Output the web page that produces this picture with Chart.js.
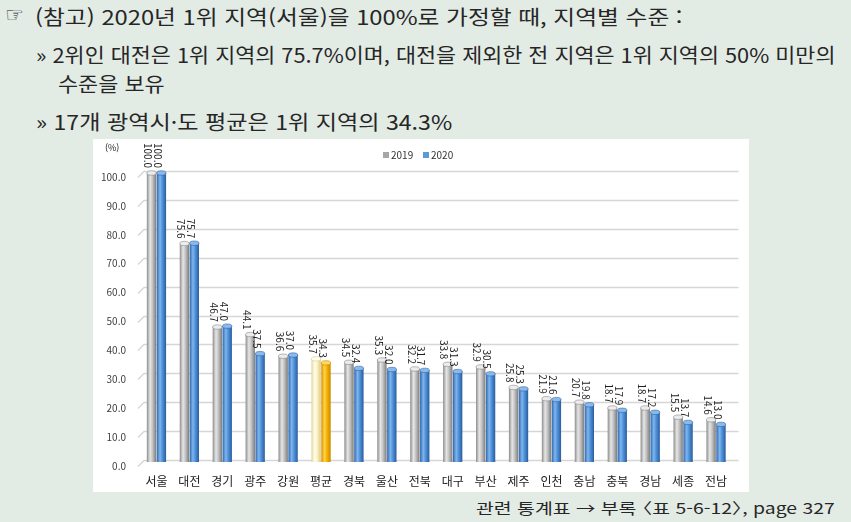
<!DOCTYPE html>
<html lang="ko">
<head>
<meta charset="utf-8">
<script src="https://cdn.jsdelivr.net/npm/chart.js@4.4.1/dist/chart.umd.min.js"></script>
<style>
  body { margin: 0; width: 851px; height: 522px; background: #e3ebe5; position: relative; overflow: hidden;
         font-family: "Noto Sans CJK KR", sans-serif; color: #262626; }
  .txt { position: absolute; white-space: nowrap; transform-origin: 0 50%; font-size: 20px; line-height: 24px; }
  #hand { position: absolute; left: 5px; top: 3px; font-family: "DejaVu Sans"; font-size: 21px; line-height: 24px; color: #222; }
  #box { position: absolute; left: 93px; top: 139px; width: 656px; height: 353px; background: #fff; }
  #foot { font-size: 15px; line-height: 20px; }
  .lb { margin-left: -7px; }
  .rb { margin-right: -7px; }
</style>
</head>
<body>
<div id="hand">☞</div>
<div class="txt" data-w="647" style="left:35px; top:5px">(참고) 2020년 1위 지역(서울)을 100%로 가정할 때, 지역별 수준 :</div>
<div class="txt" data-w="799" style="left:36px; top:43px">» 2위인 대전은 1위 지역의 75.7%이며, 대전을 제외한 전 지역은 1위 지역의 50% 미만의</div>
<div class="txt" data-w="107" style="left:58px; top:72px">수준을 보유</div>
<div class="txt" data-w="416" style="left:36px; top:110px">» 17개 광역시·도 평균은 1위 지역의 34.3%</div>
<div id="box"><canvas id="chart" width="656" height="353"></canvas></div>
<div class="txt" id="foot" data-w="359" style="left:476px; top:498px">관련 통계표 → 부록 <span class="lb">〈</span>표 5-6-12<span class="rb">〉</span>, page 327</div>

<script>
// values
const categories = ['서울', '대전', '경기', '광주', '강원', '평균', '경북', '울산', '전북', '대구', '부산', '제주', '인천', '충남', '충북', '경남', '세종', '전남'];
const values2019 = [100.0, 75.6, 46.7, 44.1, 36.6, 35.7, 34.5, 35.3, 32.2, 33.8, 32.9, 25.8, 21.9, 20.7, 18.7, 18.7, 15.5, 14.6];
const values2020 = [100.0, 75.7, 47.0, 37.5, 37.0, 34.3, 32.4, 32.0, 31.7, 31.3, 30.5, 25.3, 21.6, 19.8, 17.9, 17.2, 13.7, 13.0];
const seriesNames = ['2019', '2020'];
const highlight = '평균';
const yMin = 0, yMax = 100, yStep = 10;

// squeeze the header lines to the width they have in the picture
document.querySelectorAll('.txt').forEach(el => {
  const w = parseFloat(el.dataset.w);
  el.style.transform = 'scaleX(' + (w / el.offsetWidth) + ')';
});

const CAT_PCT = 0.6, BAR_PCT = 0.95, DEPTH = 6;

const grayStops = [[0, '#8c8c8c'], [0.35, '#e6e6e6'], [0.6, '#c4c4c4'], [1, '#7c7c7c']];
const blueStops = [[0, '#2f66ac'], [0.35, '#80b6ee'], [0.6, '#4f92da'], [1, '#2a5c9c']];
const paleStops = [[0, '#e2d79a'], [0.35, '#fffdf0'], [0.6, '#fff4c4'], [1, '#d8cb86']];
const goldStops = [[0, '#d99200'], [0.35, '#ffd24a'], [0.6, '#f5b400'], [1, '#c98600']];
const capColors = [['#ececec', '#8ab9ea'], ['#fffef5', '#ffd95e']];

function cylinder(chart, ds, i) {
  const hi = categories[i] === highlight;
  const stops = ds === 0 ? (hi ? paleStops : grayStops) : (hi ? goldStops : blueStops);
  const xs = chart.scales.x;
  if (!xs || !chart.chartArea) return stops[2][1];
  const step = xs.width / categories.length;
  const cat = step * CAT_PCT, slot = cat / 2, w = slot * BAR_PCT;
  const cx = xs.getPixelForValue(i) - cat / 2 + slot * (ds + 0.5);
  const g = chart.ctx.createLinearGradient(cx - w / 2, 0, cx + w / 2, 0);
  stops.forEach(s => g.addColorStop(s[0], s[1]));
  return g;
}

// gridlines drawn on the back wall, with the short slanted floor edge at the left
const backGrid = {
  id: 'backGrid',
  beforeDatasetsDraw(chart) {
    const { ctx, chartArea: a, scales: { y } } = chart;
    ctx.save();
    ctx.strokeStyle = '#d6d6d6';
    ctx.lineWidth = 1.3;
    y.ticks.forEach(t => {
      const py = Math.round(y.getPixelForValue(t.value)) + 0.5;
      ctx.beginPath();
      ctx.moveTo(a.left - 2, py + 4);
      ctx.lineTo(a.left + DEPTH - 2, py - 2);
      ctx.lineTo(a.right + DEPTH, py - 2);
      ctx.stroke();
    });
    ctx.restore();
  }
};

const extras = {
  id: 'extras',
  afterDatasetsDraw(chart) {
    const { ctx } = chart;
    ctx.save();
    chart.data.datasets.forEach((ds, di) => {
      chart.getDatasetMeta(di).data.forEach((bar, i) => {
        const hw = bar.width / 2;
        const hi = categories[i] === highlight;
        ctx.fillStyle = capColors[hi ? 1 : 0][di];
        ctx.strokeStyle = di === 0 ? (hi ? '#d8cb86' : '#8a8a8a') : (hi ? '#c98600' : '#2f64a8');
        ctx.lineWidth = 0.6;
        ctx.beginPath();
        ctx.ellipse(bar.x, bar.y, hw, 2.2, 0, 0, Math.PI * 2);
        ctx.fill();
        ctx.stroke();

        ctx.save();
        ctx.translate(bar.x - 3.5, bar.y - 5);
        ctx.rotate(Math.PI / 2);
        ctx.font = '10px "Noto Sans CJK KR"';
        ctx.fillStyle = '#1e1e1e';
        ctx.textAlign = 'right';
        ctx.textBaseline = 'middle';
        ctx.fillText(ds.data[i].toFixed(1), 0, 0);
        ctx.restore();
      });
    });
    // unit and legend
    ctx.font = '9px "Noto Sans CJK KR"';
    ctx.fillStyle = '#1e1e1e';
    ctx.textBaseline = 'middle';
    ctx.textAlign = 'left';
    ctx.fillText('(%)', 12, 9);
    ctx.font = '10px "Noto Sans CJK KR"';
    const legendColors = ['#a6a6a6', '#5b9bd5'];
    let lx = 290;
    seriesNames.forEach((n, k) => {
      ctx.fillStyle = legendColors[k];
      ctx.fillRect(lx, 13, 6, 6);
      ctx.fillStyle = '#333';
      ctx.fillText(n, lx + 8, 16.5);
      lx += 40;
    });
    ctx.restore();
  }
};

new Chart(document.getElementById('chart'), {
  type: 'bar',
  data: {
    labels: categories,
    datasets: [
      { label: seriesNames[0], data: values2019, backgroundColor: c => cylinder(c.chart, 0, c.dataIndex),
        categoryPercentage: CAT_PCT, barPercentage: BAR_PCT },
      { label: seriesNames[1], data: values2020, backgroundColor: c => cylinder(c.chart, 1, c.dataIndex),
        categoryPercentage: CAT_PCT, barPercentage: BAR_PCT }
    ]
  },
  options: {
    responsive: false,
    animation: false,
    devicePixelRatio: 1,
    layout: { padding: { top: 34, right: 16.5, left: 0, bottom: 0 } },
    plugins: { legend: { display: false }, tooltip: { enabled: false } },
    scales: {
      x: {
        grid: { display: false, drawTicks: false },
        border: { display: false },
        ticks: { color: '#222', font: { family: 'Noto Sans CJK KR', size: 12 }, padding: 12, maxRotation: 0 },
        afterFit: s => { s.height = 30; }
      },
      y: {
        min: yMin, max: yMax,
        grid: { display: false, drawTicks: false },
        border: { display: false },
        ticks: { stepSize: yStep, color: '#404040', padding: 14, labelOffset: 4,
                 font: { family: 'Noto Sans CJK KR', size: 10 }, callback: v => v.toFixed(1) },
        afterFit: s => { s.width = 47; }
      }
    }
  },
  plugins: [backGrid, extras]
});
</script>
</body>
</html>
